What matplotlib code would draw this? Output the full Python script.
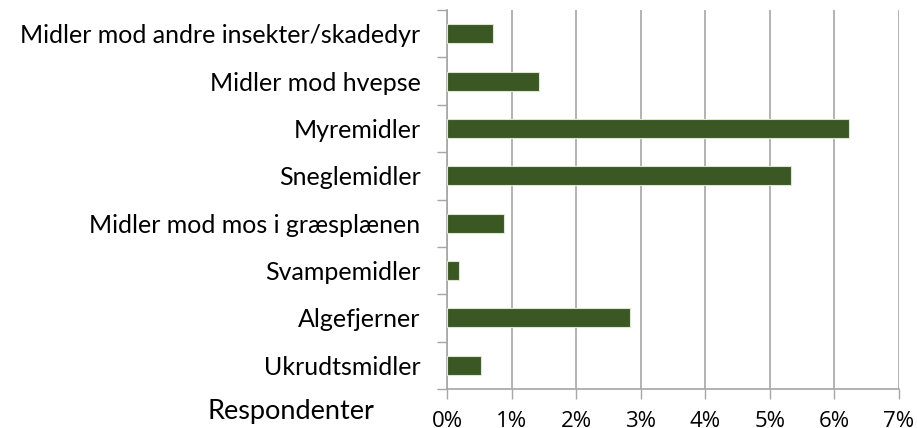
import matplotlib
matplotlib.use("Agg")
import matplotlib.pyplot as plt
from matplotlib.ticker import FuncFormatter

# categories listed bottom to top
categories = [
    "Ukrudtsmidler",
    "Algefjerner",
    "Svampemidler",
    "Midler mod mos i græsplænen",
    "Sneglemidler",
    "Myremidler",
    "Midler mod hvepse",
    "Midler mod andre insekter/skadedyr",
]
values = [0.53, 2.84, 0.18, 0.88, 5.33, 6.23, 1.42, 0.71]
x_ticks = [0, 1, 2, 3, 4, 5, 6, 7]

BAR_COLOR = "#3A5724"
GRID_COLOR = "#A6A6A6"

plt.rcParams["font.family"] = ["Lato", "DejaVu Sans"]

fig = plt.figure(figsize=(9.17, 4.28), dpi=100)
ax = fig.add_axes([447 / 917, 1 - 389 / 428, (898.7 - 447) / 917, (389 - 10) / 428])

ypos = range(len(categories))
ax.barh(ypos, values, height=0.4, color=BAR_COLOR, edgecolor="#DDE6D5",
        linewidth=0.8, zorder=3)

ax.set_xlim(0, 7)
ax.set_ylim(-0.5, len(categories) - 0.5)
ax.set_xticks(x_ticks)
ax.xaxis.set_major_formatter(FuncFormatter(lambda v, p: "%d%%" % v))
ax.set_yticks(ypos)
ax.set_yticklabels(categories)
# category separators as tick marks
ax.set_yticks([i - 0.5 for i in range(len(categories) + 1)], minor=True)
ax.tick_params(axis="y", which="major", length=0, pad=19, labelsize=18)
ax.tick_params(axis="y", which="minor", length=7.5, width=1, color=GRID_COLOR)
ax.tick_params(axis="x", length=7, width=1, color=GRID_COLOR, pad=9,
               labelsize=16)
for lab in ax.get_xticklabels():
    lab.set_family(["Open Sans", "DejaVu Sans"])

ax.grid(axis="x", color=GRID_COLOR, linewidth=1.2, zorder=0)
for side in ["top", "right"]:
    ax.spines[side].set_visible(False)
for side in ["left", "bottom"]:
    ax.spines[side].set_color(GRID_COLOR)
    ax.spines[side].set_linewidth(1.2)

fig.text(291 / 917, 1 - 411 / 428, "Respondenter", ha="center", va="center",
         fontsize=19.5)

fig.savefig("out.png", dpi=100)
